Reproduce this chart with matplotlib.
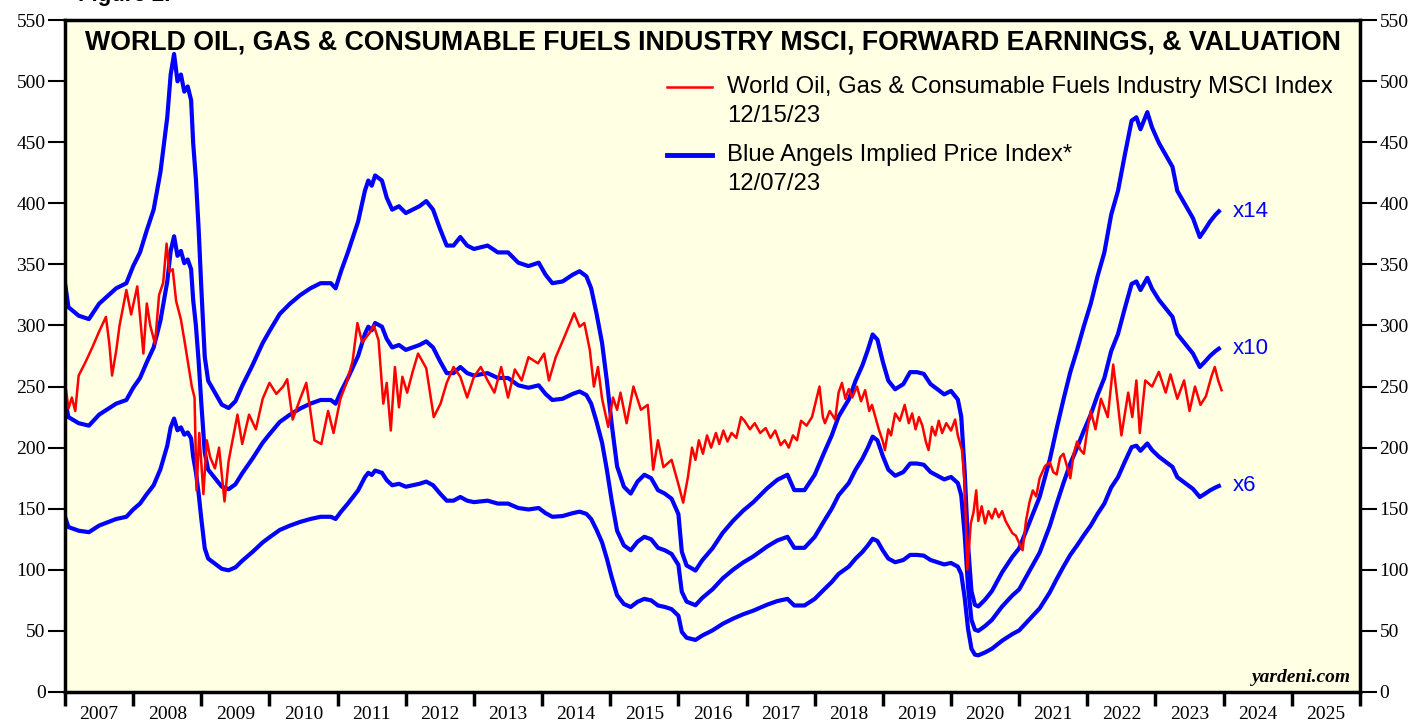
import numpy as np
import matplotlib
matplotlib.use("Agg")
import matplotlib.pyplot as plt
from matplotlib.lines import Line2D

# forward earnings (implied price / multiple), decimal years
eps_t = [2007.0, 2007.05, 2007.2, 2007.35, 2007.5, 2007.75, 2007.9, 2008.0, 2008.1, 2008.2,
         2008.3, 2008.4, 2008.5, 2008.55, 2008.6, 2008.65, 2008.7, 2008.75, 2008.8, 2008.85,
         2008.88, 2008.92, 2008.96, 2009.0, 2009.05, 2009.1, 2009.2, 2009.3, 2009.4, 2009.5,
         2009.6, 2009.75, 2009.9, 2010.0, 2010.15, 2010.3, 2010.45, 2010.6, 2010.75, 2010.9,
         2010.97, 2011.05, 2011.15, 2011.3, 2011.4, 2011.45, 2011.5, 2011.55, 2011.65, 2011.72,
         2011.8, 2011.9, 2012.0, 2012.1, 2012.2, 2012.3, 2012.4, 2012.5, 2012.6, 2012.7,
         2012.8, 2012.9, 2013.0, 2013.2, 2013.35, 2013.5, 2013.65, 2013.8, 2013.95, 2014.05,
         2014.15, 2014.3, 2014.45, 2014.55, 2014.65, 2014.72, 2014.8, 2014.88, 2014.95, 2015.02,
         2015.1, 2015.2, 2015.3, 2015.4, 2015.5, 2015.6, 2015.7, 2015.8, 2015.9, 2016.0,
         2016.05, 2016.12, 2016.25, 2016.35, 2016.5, 2016.65, 2016.8, 2016.95, 2017.1, 2017.3,
         2017.45, 2017.6, 2017.7, 2017.85, 2018.0, 2018.15, 2018.25, 2018.35, 2018.5, 2018.6,
         2018.7, 2018.78, 2018.85, 2018.92, 2019.0, 2019.08, 2019.18, 2019.3, 2019.4, 2019.5,
         2019.6, 2019.7, 2019.8, 2019.9, 2020.0, 2020.1, 2020.15, 2020.2, 2020.25, 2020.3,
         2020.35, 2020.4, 2020.5, 2020.6, 2020.75, 2020.9, 2021.0, 2021.15, 2021.3, 2021.45,
         2021.55, 2021.65, 2021.75, 2021.85, 2021.95, 2022.05, 2022.15, 2022.25, 2022.35, 2022.45,
         2022.55, 2022.65, 2022.72, 2022.78, 2022.85, 2022.88, 2022.95, 2023.05, 2023.15, 2023.25,
         2023.32, 2023.45, 2023.55, 2023.65, 2023.72, 2023.8, 2023.88, 2023.93]
eps = [23.9, 22.5, 22.0, 21.8, 22.7, 23.6, 23.9, 24.9, 25.7, 27.0,
       28.2, 30.4, 33.6, 36.1, 37.3, 35.7, 36.1, 35.1, 35.4, 34.6,
       32.1, 30.0, 27.1, 23.6, 19.6, 18.2, 17.5, 16.8, 16.6, 17.0,
       17.9, 19.1, 20.4, 21.1, 22.1, 22.7, 23.2, 23.6, 23.9, 23.9,
       23.6, 24.6, 25.7, 27.5, 29.3, 29.9, 29.6, 30.2, 29.9, 28.9,
       28.2, 28.4, 28.0, 28.2, 28.4, 28.7, 28.2, 27.1, 26.1, 26.1,
       26.6, 26.1, 25.9, 26.1, 25.7, 25.7, 25.1, 24.9, 25.1, 24.4,
       23.9, 24.0, 24.4, 24.6, 24.3, 23.6, 22.1, 20.4, 18.2, 15.7,
       13.2, 12.0, 11.6, 12.3, 12.7, 12.5, 11.8, 11.6, 11.3, 10.4,
       8.2, 7.4, 7.1, 7.7, 8.4, 9.3, 10.0, 10.6, 11.1, 11.9,
       12.4, 12.7, 11.8, 11.8, 12.7, 14.1, 15.0, 16.1, 17.1, 18.2,
       19.1, 20.0, 20.9, 20.6, 19.3, 18.2, 17.7, 18.0, 18.7, 18.7,
       18.6, 18.0, 17.7, 17.4, 17.6, 17.1, 16.1, 12.9, 8.6, 5.9,
       5.1, 5.0, 5.4, 5.9, 7.0, 7.9, 8.4, 9.9, 11.4, 13.6,
       15.4, 17.1, 18.7, 20.0, 21.4, 22.7, 24.3, 25.7, 27.9, 29.3,
       31.4, 33.4, 33.6, 32.9, 33.6, 33.9, 33.0, 32.1, 31.4, 30.7,
       29.3, 28.4, 27.7, 26.6, 27.0, 27.5, 27.9, 28.1]
multiples = [14, 10, 6]

# MSCI index
msci_t = [2007.0, 2007.05, 2007.1, 2007.15, 2007.2, 2007.3, 2007.4, 2007.5, 2007.6, 2007.65,
          2007.69, 2007.75, 2007.8, 2007.9, 2007.97, 2008.06, 2008.15, 2008.2, 2008.25, 2008.32,
          2008.38, 2008.44, 2008.49, 2008.53, 2008.58, 2008.63, 2008.7, 2008.76, 2008.82, 2008.86,
          2008.9, 2008.93, 2008.97, 2009.03, 2009.08, 2009.13, 2009.2, 2009.26, 2009.34, 2009.4,
          2009.53, 2009.6, 2009.7, 2009.8, 2009.9, 2010.0, 2010.1, 2010.2, 2010.26, 2010.34,
          2010.45, 2010.54, 2010.6, 2010.66, 2010.76, 2010.86, 2010.94, 2011.04, 2011.13, 2011.22,
          2011.29, 2011.36, 2011.47, 2011.53, 2011.6, 2011.67, 2011.72, 2011.78, 2011.84, 2011.9,
          2011.95, 2012.02, 2012.1, 2012.18, 2012.3, 2012.41, 2012.51, 2012.6, 2012.7, 2012.8,
          2012.9, 2013.0, 2013.1, 2013.2, 2013.3, 2013.4, 2013.5, 2013.6, 2013.7, 2013.8,
          2013.94, 2014.03, 2014.1, 2014.2, 2014.33, 2014.47, 2014.55, 2014.62, 2014.7, 2014.76,
          2014.82, 2014.88, 2014.97, 2015.04, 2015.1, 2015.15, 2015.24, 2015.34, 2015.45, 2015.55,
          2015.63, 2015.7, 2015.78, 2015.9, 2016.0, 2016.07, 2016.14, 2016.2, 2016.25, 2016.3,
          2016.36, 2016.42, 2016.48, 2016.55, 2016.6, 2016.66, 2016.72, 2016.78, 2016.85, 2016.92,
          2016.97, 2017.05, 2017.12, 2017.2, 2017.28, 2017.35, 2017.42, 2017.5, 2017.56, 2017.62,
          2017.68, 2017.74, 2017.8, 2017.88, 2017.96, 2018.07, 2018.12, 2018.15, 2018.22, 2018.3,
          2018.35, 2018.4, 2018.45, 2018.5, 2018.55, 2018.62, 2018.68, 2018.74, 2018.8, 2018.84,
          2018.9, 2018.94, 2019.0, 2019.03, 2019.08, 2019.12, 2019.18, 2019.25, 2019.32, 2019.38,
          2019.43, 2019.48, 2019.53, 2019.58, 2019.63, 2019.67, 2019.72, 2019.77, 2019.82, 2019.87,
          2019.93, 2020.0, 2020.06, 2020.1, 2020.16, 2020.2, 2020.24, 2020.29, 2020.33, 2020.37,
          2020.4, 2020.45, 2020.5, 2020.55, 2020.6, 2020.65, 2020.7, 2020.75, 2020.8, 2020.85,
          2020.9, 2020.95, 2021.0, 2021.05, 2021.1, 2021.15, 2021.2, 2021.25, 2021.3, 2021.38,
          2021.45, 2021.5, 2021.55, 2021.6, 2021.65, 2021.7, 2021.75, 2021.8, 2021.85, 2021.9,
          2021.95, 2022.0, 2022.05, 2022.12, 2022.2, 2022.3, 2022.38, 2022.45, 2022.5, 2022.6,
          2022.66, 2022.72, 2022.77, 2022.85, 2022.95, 2023.05, 2023.15, 2023.22, 2023.32, 2023.42,
          2023.5, 2023.58, 2023.66, 2023.74, 2023.82, 2023.87, 2023.92, 2023.97]
msci = [253, 232, 241, 230, 259, 270, 282, 295, 307, 285,
        259, 279, 300, 329, 309, 332, 277, 318, 300, 285,
        325, 335, 367, 344, 346, 320, 305, 285, 264, 250,
        241, 165, 212, 162, 206, 192, 183, 200, 156, 189,
        227, 203, 227, 215, 240, 253, 244, 250, 256, 223,
        240, 253, 230, 206, 203, 230, 212, 240, 253, 271,
        302, 286, 294, 300, 288, 236, 253, 214, 266, 233,
        258, 245, 262, 277, 265, 225, 236, 253, 266, 258,
        241, 258, 266, 255, 245, 266, 241, 264, 255, 274,
        269, 277, 255, 274, 291, 310, 299, 302, 280, 250,
        266, 240, 217, 241, 231, 245, 220, 250, 231, 235,
        182, 206, 184, 190, 170, 155, 176, 200, 190, 206,
        195, 210, 200, 212, 203, 214, 205, 212, 208, 225,
        222, 215, 220, 212, 216, 208, 214, 202, 206, 200,
        210, 206, 222, 218, 225, 250, 225, 220, 230, 223,
        245, 253, 240, 248, 241, 250, 238, 247, 230, 235,
        223, 215, 205, 198, 215, 210, 228, 222, 235, 220,
        228, 215, 225, 218, 205, 198, 217, 210, 222, 212,
        220, 214, 223, 210, 198, 171, 100, 138, 147, 165,
        140, 152, 138, 148, 142, 150, 143, 148, 140, 135,
        130, 128, 122, 116, 140, 155, 165, 160, 175, 185,
        188, 180, 178, 192, 195, 185, 175, 195, 205, 198,
        195, 215, 230, 215, 240, 225, 268, 235, 210, 245,
        225, 255, 212, 255, 250, 262, 245, 260, 240, 255,
        230, 250, 235, 242, 258, 266, 255, 247]

blue = "#0000FF"
red = "#FF0000"
serif = "Liberation Serif"
sans = "Liberation Sans"

fig = plt.figure(figsize=(14.2, 7.23), dpi=100)
ax = fig.add_axes([0.0458, 0.0429, 0.9119, 0.9294])
ax.set_facecolor("#FFFFE3")

for m in multiples:
    ax.plot(eps_t, np.array(eps) * m, color=blue, lw=3.0, solid_joinstyle="round")
ax.plot(msci_t, msci, color=red, lw=1.8)

for m in multiples:
    ax.text(eps_t[-1] + 0.2, eps[-1] * m, "x%d" % m, color=blue, fontsize=16,
            family=sans, va="center", ha="left")

ax.set_xlim(2007, 2026)
ax.set_ylim(0, 550)
ax.set_yticks(range(0, 551, 50))
ax.tick_params(axis="y", which="both", left=True, right=True, labelleft=True, labelright=True,
               direction="out", length=12, width=1.5, labelsize=14, pad=2)
for lab in ax.get_yticklabels():
    lab.set_family(serif)

years = list(range(2007, 2027))
ax.set_xticks(years)
ax.set_xticklabels([])
ax.set_xticks([y + 0.5 for y in years[:-1]], minor=True)
ax.set_xticklabels([str(y) for y in years[:-1]], minor=True, family=serif, fontsize=14)
ax.tick_params(axis="x", which="major", direction="out", length=10, width=2.5)
ax.tick_params(axis="x", which="minor", length=0, pad=10)

for s in ax.spines.values():
    s.set_linewidth(2.5)

ax.text(0.5, 0.967, "WORLD OIL, GAS & CONSUMABLE FUELS INDUSTRY MSCI, FORWARD EARNINGS, & VALUATION",
        transform=ax.transAxes, ha="center", va="center", fontsize=19.3, fontweight="bold", family=sans)

# legend
ax.add_line(Line2D([0.465, 0.500], [0.900, 0.900], transform=ax.transAxes, color=red, lw=1.8))
ax.text(0.511, 0.900, "World Oil, Gas & Consumable Fuels Industry MSCI Index", transform=ax.transAxes,
        va="center", fontsize=17.2, family=sans)
ax.text(0.511, 0.857, "12/15/23", transform=ax.transAxes, va="center", fontsize=17.2, family=sans)
ax.add_line(Line2D([0.465, 0.500], [0.799, 0.799], transform=ax.transAxes, color=blue, lw=3.5))
ax.text(0.511, 0.799, "Blue Angels Implied Price Index*", transform=ax.transAxes,
        va="center", fontsize=17.2, family=sans)
ax.text(0.511, 0.756, "12/07/23", transform=ax.transAxes, va="center", fontsize=17.2, family=sans)

ax.text(0.993, 0.022, "yardeni.com", transform=ax.transAxes, ha="right", va="center",
        fontsize=14, family=serif, fontweight="bold", style="italic")

fig.text(0.055, 1.006, "Figure 2.", fontsize=16, fontweight="bold", family=sans, va="center")

fig.savefig("out.png", dpi=100)
